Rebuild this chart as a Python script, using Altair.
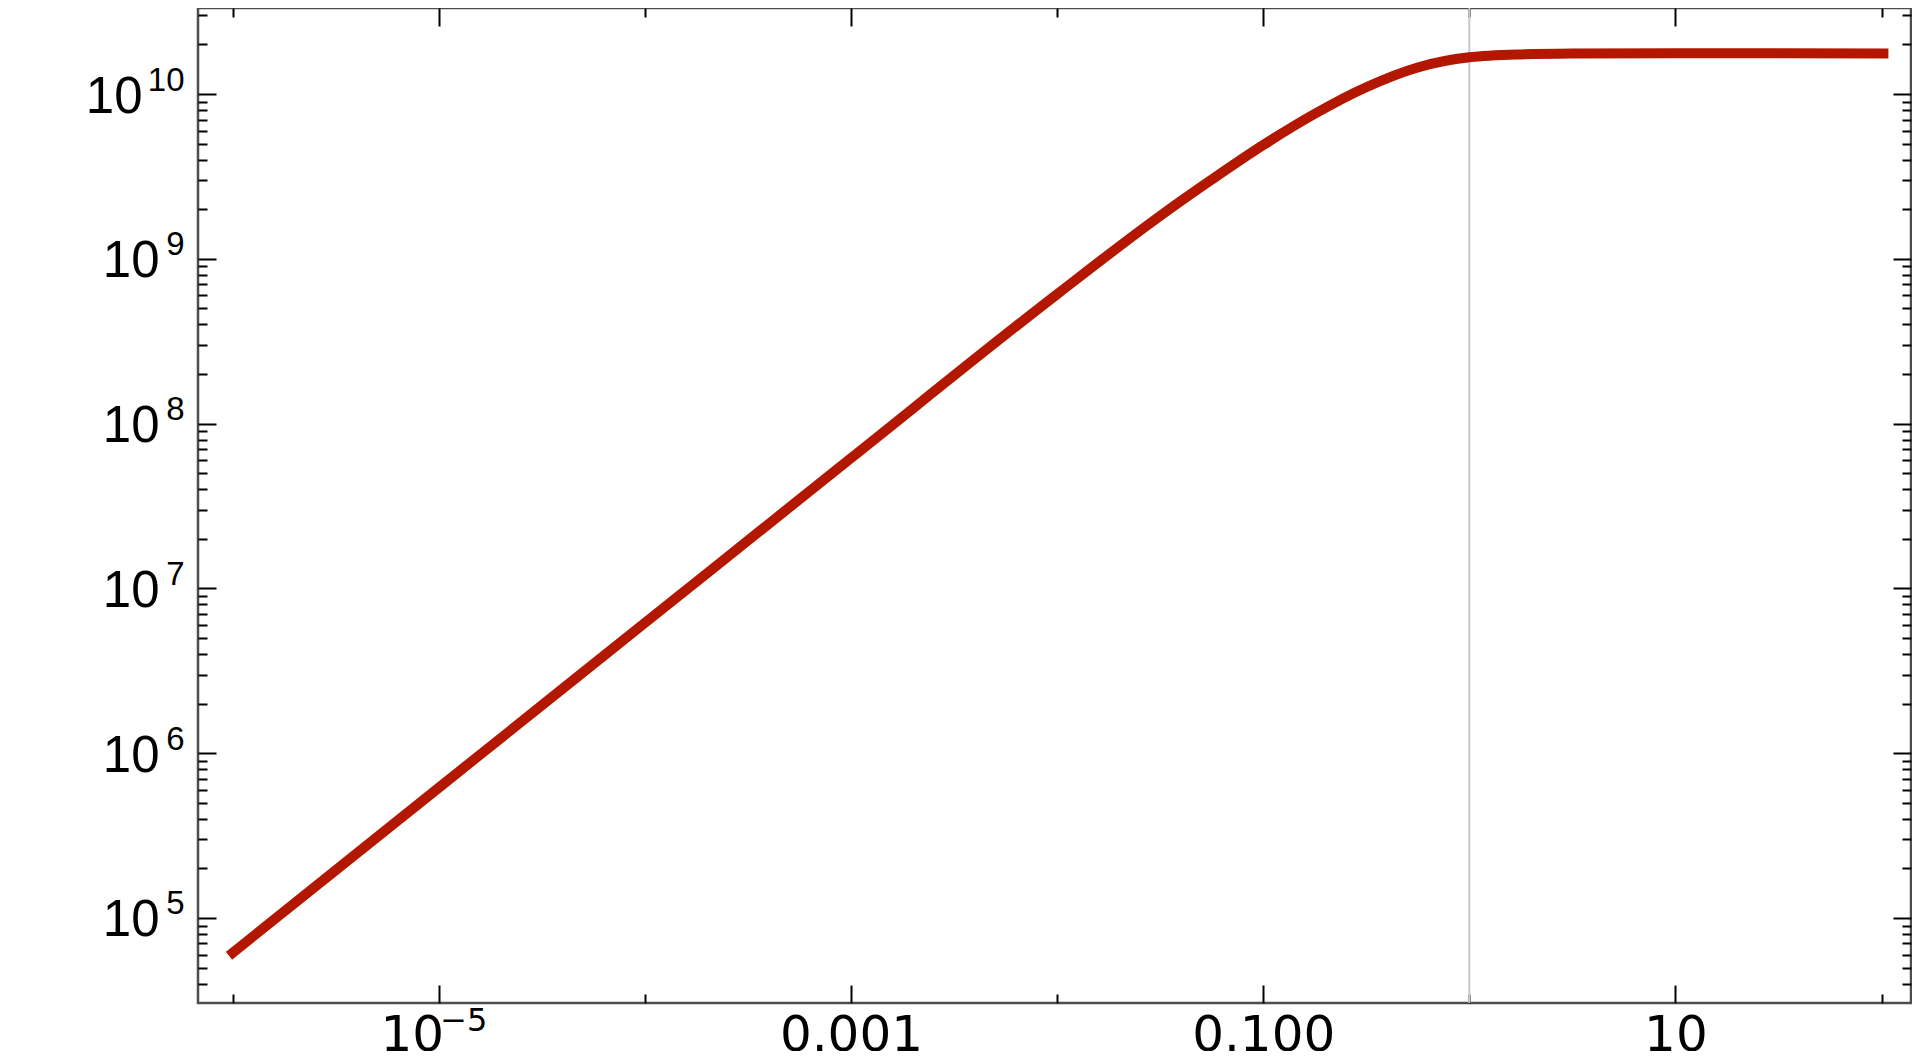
import altair as alt
import pandas as pd

# ---- data ----
x_values = [9.6e-7, 1e-5, 1e-4, 1e-3, 1e-2, 0.0316, 0.0562, 0.1, 0.178, 0.316,
            0.562, 1.0, 1.78, 3.16, 10.0, 108.0]
y_values = [5.9e4, 6.17e5, 6.17e6, 6.17e7, 6.1e8, 1.82e9, 3.02e9, 4.9e9,
            7.59e9, 1.1e10, 1.45e10, 1.67e10, 1.74e10, 1.76e10, 1.77e10, 1.76e10]
marker_x = [1.0]

x_major_ticks = [1e-5, 1e-3, 1e-1, 1e1]
x_major_labels = ["10", "0.001", "0.100", "10"]
x_exp_ticks = [1e-5]
x_exp_labels = ["\u22125"]
x_minor_ticks = [1e-6, 1e-4, 1e-2, 1e0, 1e2]

y_major_ticks = [1e5, 1e6, 1e7, 1e8, 1e9, 1e10]
y_base_labels = ["10", "10", "10", "10", "10", "10"]
y_exp_labels = ["5", "6", "7", "8", "9", "10"]

x_domain = [6.79e-7, 139.0]
y_domain = [30479.0, 3.327e10]
y_minor_ticks = [m * 10.0 ** k for k in range(4, 11) for m in range(2, 10)
                 if y_domain[0] <= m * 10.0 ** k <= y_domain[1]]

W, H = 1713, 995
RED = "#b31700"
FONT = "Liberation Sans"
XFONT = "DejaVu Sans"


def label_expr(values, labels):
    expr = "''"
    for v, lab in reversed(list(zip(values, labels))):
        expr = f"abs(log(datum.value) - log({v})) < 0.01 ? '{lab}' : ({expr})"
    return expr


df = pd.DataFrame({"x": x_values, "y": y_values})
xs = alt.Scale(type="log", domain=x_domain, nice=False)
ys = alt.Scale(type="log", domain=y_domain, nice=False)


def tick_axis(orient, offset, values, size):
    return alt.Axis(orient=orient, offset=offset, values=values, labels=False,
                    tickSize=size, tickWidth=2, tickColor="black",
                    domain=False, grid=False, title=None)


def layer(x_axis, y_axis, visible=False):
    return alt.Chart(df).mark_line(
        color=RED, strokeWidth=10, interpolate="monotone",
        opacity=1 if visible else 0,
    ).encode(
        x=alt.X("x:Q", scale=xs, axis=x_axis),
        y=alt.Y("y:Q", scale=ys, axis=y_axis),
    )


x_lab_axis = alt.Axis(
    orient="bottom", values=x_major_ticks,
    labelExpr=label_expr(x_major_ticks, x_major_labels),
    ticks=False, domain=False, grid=False, title=None,
    labelFont=XFONT, labelFontSize=50, labelColor="black",
    labelBaseline="alphabetic", labelAlign="center", labelPadding=47,
    labelOffset={"condition": {"test": "datum.value < 3e-5", "value": -27}, "value": 0},
    labelFlush=False, labelOverlap=False,
)
x_exp_axis = alt.Axis(
    orient="bottom", values=x_exp_ticks,
    labelExpr=label_expr(x_exp_ticks, x_exp_labels),
    ticks=False, domain=False, grid=False, title=None,
    labelFont=XFONT, labelFontSize=32, labelColor="black",
    labelBaseline="alphabetic", labelAlign="left", labelPadding=27, labelOffset=1,
    labelFlush=False, labelOverlap=False,
)
y_lab_axis = alt.Axis(
    orient="left", values=y_major_ticks,
    labelExpr=label_expr(y_major_ticks, y_base_labels),
    ticks=False, domain=False, grid=False, title=None,
    labelFont=FONT, labelFontSize=51, labelColor="black",
    labelBaseline="alphabetic", labelAlign="right",
    labelPadding={"condition": {"test": "datum.value > 5e9", "value": 56}, "value": 39},
    labelOffset=18, labelFlush=False, labelOverlap=False,
)
y_exp_axis = alt.Axis(
    orient="left", values=y_major_ticks,
    labelExpr=label_expr(y_major_ticks, y_exp_labels),
    ticks=False, domain=False, grid=False, title=None,
    labelFont=FONT, labelFontSize=33, labelColor="black",
    labelBaseline="alphabetic", labelAlign="right", labelPadding=14,
    labelOffset=-4, labelFlush=False, labelOverlap=False,
)

rule = alt.Chart(pd.DataFrame({"x": marker_x})).mark_rule(
    color="#c8c8c8", strokeWidth=2
).encode(x=alt.X("x:Q", scale=xs, axis=None))

layers = [
    rule,
    layer(x_lab_axis, y_lab_axis, visible=True),
    layer(x_exp_axis, y_exp_axis),
    layer(tick_axis("top", -H, x_major_ticks, 18), tick_axis("right", -W, y_major_ticks, 18)),
    layer(tick_axis("top", -H, x_minor_ticks, 9), tick_axis("right", -W, y_minor_ticks, 9)),
    layer(tick_axis("bottom", -H, x_major_ticks, 18), tick_axis("left", -W, y_major_ticks, 18)),
    layer(tick_axis("bottom", -H, x_minor_ticks, 9), tick_axis("left", -W, y_minor_ticks, 9)),
]

chart = alt.layer(*layers).resolve_axis(
    x="independent", y="independent"
).properties(
    width=W, height=H, autosize="none", background="white",
    padding={"left": 190, "top": 0, "right": 1, "bottom": 48},
).configure_view(
    stroke="#4d4d4d", strokeWidth=2.5
)

chart.save("out.html", embed_options={"renderer": "svg", "actions": False})
